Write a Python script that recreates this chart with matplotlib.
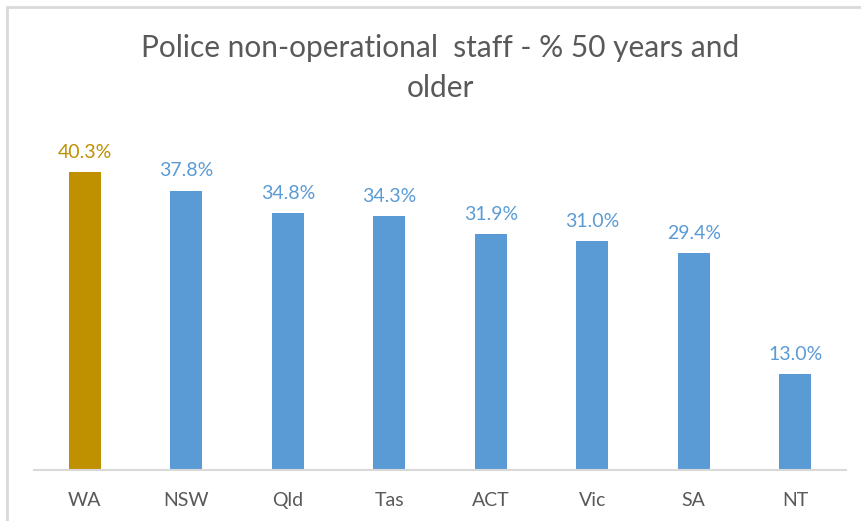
import matplotlib.pyplot as plt
from matplotlib.patches import Rectangle

# Data
states = ["WA", "NSW", "Qld", "Tas", "ACT", "Vic", "SA", "NT"]
pct_50_plus = [40.3, 37.8, 34.8, 34.3, 31.9, 31.0, 29.4, 13.0]

GOLD = "#BF9000"
BLUE = "#5B9BD5"
GREY_TEXT = "#595959"

plt.rcParams['font.family'] = ['Lato', 'DejaVu Sans']

fig = plt.figure(figsize=(8.61, 5.21), dpi=100)

# light chart-area border (top/left visible, the rest runs off the image)
fig.patches.append(Rectangle((7 / 861, -0.05), 1.1, (521 - 7) / 521 + 0.05,
                             transform=fig.transFigure, fill=False,
                             edgecolor="#D9D9D9", linewidth=2))

ax = fig.add_axes([34 / 861, 51 / 521, 812 / 861, 340 / 521])

colours = [GOLD] + [BLUE] * (len(states) - 1)
x = range(len(states))
bars = ax.bar(x, pct_50_plus, width=0.315, color=colours)

for rect, val, c in zip(bars, pct_50_plus, colours):
    ax.annotate(f"{val:.1f}%", (rect.get_x() + rect.get_width() / 2, val),
                xytext=(0, 8), textcoords="offset points",
                ha="center", va="bottom", fontsize=14, color=c)

ax.set_xlim(-0.5, len(states) - 0.5)
ax.set_ylim(0, 46)
ax.set_yticks([])
ax.set_xticks(list(x))
ax.set_xticklabels(states, fontsize=14, color=GREY_TEXT)
ax.tick_params(axis="x", length=0, pad=16)

for side in ("top", "right", "left"):
    ax.spines[side].set_visible(False)
ax.spines["bottom"].set_color("#D9D9D9")
ax.spines["bottom"].set_linewidth(1.5)

fig.text(440 / 861, 1 - 68 / 521, "Police non-operational  staff - % 50 years and\nolder",
         ha="center", va="center", fontsize=21.5, color=GREY_TEXT, linespacing=1.55)

plt.savefig("out.png", dpi=100)
